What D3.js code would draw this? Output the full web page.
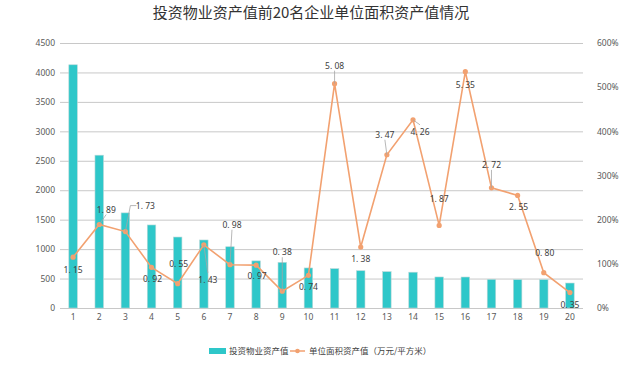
<!DOCTYPE html>
<html><head><meta charset="utf-8">
<script src="https://cdn.jsdelivr.net/npm/d3@7"></script>
<style>
html,body{margin:0;padding:0;background:#fff;}
svg{display:block;font-family:"Noto Sans CJK SC","Noto Sans",sans-serif;}
</style></head><body>
<div id="chart"></div>
<script>
const title = "投资物业资产值前20名企业单位面积资产值情况";
const categories = ["1","2","3","4","5","6","7","8","9","10","11","12","13","14","15","16","17","18","19","20"];
const assetValues = [4130,2595,1615,1410,1205,1155,1040,800,775,680,668,633,617,608,527,526,487,481,481,424];
const unitValues = [1.15,1.89,1.73,0.92,0.55,1.43,0.98,0.97,0.38,0.74,5.08,1.38,3.47,4.26,1.87,5.35,2.72,2.55,0.80,0.35];
const leftTicks = [0,500,1000,1500,2000,2500,3000,3500,4000,4500];
const rightTicks = [0,1,2,3,4,5,6];
const seriesNames = ["投资物业资产值","单位面积资产值（万元/平方米）"];
// label layout offsets (dx, dy) relative to each point, and whether a leader line is drawn
const labelOffsets = [[0,13],[7,-15],[20,-26],[1,12],[1,-20],[4,35],[2,-40],[1,11],[0,-39],[0,12],
                      [0,-18],[0,12],[-2,-20],[7,12],[0,-26],[0,13],[0,-23],[1,12],[1,-20],[0,12]];
const leaders = [false,true,true,false,false,true,true,false,true,false,true,false,true,true,false,false,true,false,false,false];

const W=640,H=366;
const m={top:43,bottom:58,left:60,right:57};
const svg=d3.select("#chart").append("svg").attr("width",W).attr("height",H);

const x=d3.scaleBand().domain(categories).range([m.left,W-m.right]);
const yL=d3.scaleLinear().domain([0,4500]).range([H-m.bottom,m.top]);
const yR=d3.scaleLinear().domain([0,6]).range([H-m.bottom,m.top]);

svg.append("text").attr("x",311).attr("y",18).attr("text-anchor","middle")
  .attr("font-size",15).attr("fill","#333").text(title);

// gridlines
svg.append("g").selectAll("line").data(leftTicks).join("line")
  .attr("x1",m.left).attr("x2",W-m.right)
  .attr("y1",d=>yL(d)+0.5).attr("y2",d=>yL(d)+0.5)
  .attr("stroke","#c8c8c8").attr("stroke-width",1);

// left axis
const axL=svg.append("g").attr("transform",`translate(${m.left-5},0)`)
  .call(d3.axisLeft(yL).tickValues(leftTicks).tickSize(0).tickPadding(0).tickFormat(d3.format("d")));
axL.select(".domain").remove();
axL.selectAll("text").attr("font-size",8.5).attr("fill","#595959").attr("font-family","Noto Sans,sans-serif");

// right axis
const axR=svg.append("g").attr("transform",`translate(${W-m.right+14},0)`)
  .call(d3.axisRight(yR).tickValues(rightTicks).tickSize(0).tickPadding(0).tickFormat(d=>d*100+"%"));
axR.select(".domain").remove();
axR.selectAll("text").attr("font-size",8.5).attr("fill","#595959").attr("font-family","Noto Sans,sans-serif");

// x axis
const axX=svg.append("g").attr("transform",`translate(0,${H-m.bottom+6})`)
  .call(d3.axisBottom(x).tickSize(0).tickPadding(0));
axX.select(".domain").remove();
axX.selectAll("text").attr("font-size",8.5).attr("fill","#595959").attr("font-family","Noto Sans,sans-serif");

// bars
const bw=8.5;
svg.append("g").selectAll("rect").data(assetValues).join("rect")
  .attr("x",(d,i)=>x(categories[i])+x.bandwidth()/2-bw/2)
  .attr("y",d=>yL(d))
  .attr("width",bw).attr("height",d=>yL(0)-yL(d))
  .attr("fill","#2ec7c9").attr("stroke","#b8d8d8").attr("stroke-width",0.6);

// line
const cx=i=>x(categories[i])+x.bandwidth()/2;
const line=d3.line().x((d,i)=>cx(i)).y(d=>yR(d));
svg.append("path").datum(unitValues).attr("d",line)
  .attr("fill","none").attr("stroke","#f2a170").attr("stroke-width",1.6);
svg.append("g").selectAll("circle").data(unitValues).join("circle")
  .attr("cx",(d,i)=>cx(i)).attr("cy",d=>yR(d)).attr("r",2.6).attr("fill","#f2a170");

// leader lines
const lg=svg.append("g");
unitValues.forEach((d,i)=>{
  if(!leaders[i]) return;
  const px=cx(i), py=yR(d);
  const [dx,dy]=labelOffsets[i];
  const ly=py+dy+(dy<0?5:-7);
  let lx=px+dx;
  if(i===2){ // bent leader to left side of label
    lg.append("polyline").attr("points",`${px},${py} ${px+5},${py+dy} ${px+dx-9},${py+dy}`)
      .attr("fill","none").attr("stroke","#a6a6a6").attr("stroke-width",0.8);
    return;
  }
  if(i===13){
    lg.append("line").attr("x1",px).attr("y1",py).attr("x2",px+dx).attr("y2",py+dy-7)
      .attr("stroke","#a6a6a6").attr("stroke-width",0.8);
    return;
  }
  lg.append("line").attr("x1",px).attr("y1",py).attr("x2",lx).attr("y2",ly)
    .attr("stroke","#a6a6a6").attr("stroke-width",0.8);
});

// data labels
svg.append("g").selectAll("text").data(unitValues).join("text")
  .attr("x",(d,i)=>cx(i)+labelOffsets[i][0])
  .attr("y",(d,i)=>yR(d)+labelOffsets[i][1]+3)
  .attr("text-anchor","middle").attr("font-size",8.5).attr("fill","#404040")
  .attr("font-family","Noto Sans,sans-serif")
  .text(d=>d3.format(".2f")(d).replace("."," . ").replace(" . ",". "));

// legend
const lgd=svg.append("g");
lgd.append("rect").attr("x",209).attr("y",348).attr("width",17).attr("height",6).attr("fill","#2ec7c9");
lgd.append("text").attr("x",229).attr("y",354).attr("font-size",8.5).attr("fill","#404040").text(seriesNames[0]);
lgd.append("line").attr("x1",290).attr("x2",305).attr("y1",351).attr("y2",351).attr("stroke","#f2a170").attr("stroke-width",1.5);
lgd.append("circle").attr("cx",297.5).attr("cy",351).attr("r",2.3).attr("fill","#f2a170");
lgd.append("text").attr("x",309).attr("y",354).attr("font-size",8.5).attr("fill","#404040").text(seriesNames[1]);
</script>
</body></html>
